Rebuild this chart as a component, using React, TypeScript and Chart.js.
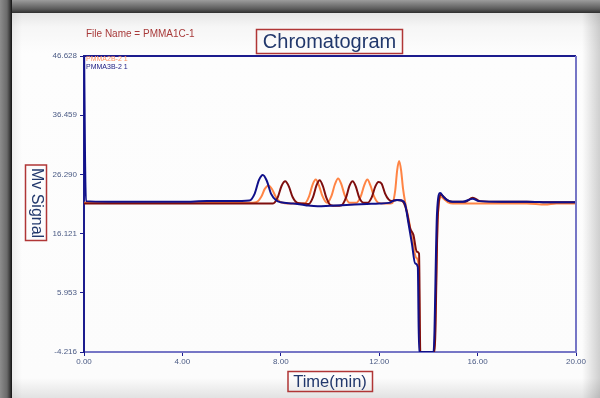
import React, { useEffect, useRef } from "react";
import { Chart, registerables } from "chart.js";

Chart.register(...registerables);

// ---- data ----
const xTickStep = 4;
const xMin = 0;
const xMax = 20;
const yTickValues = [-4.216, 5.953, 16.121, 26.29, 36.459, 46.628];

const fileName = "File Name = PMMA1C-1";
const titleText = "Chromatogram";
const xTitle = "Time(min)";
const yTitle = "Mv Signal";
const legendLabels = ["PMMA2B-2 1", "PMMA3B-2 1"];

// PMMA2B-2 1 (orange)
const orangeTimes = [
  0, 1, 2, 3, 4, 5, 6, 6.7,
  7.0, 7.2, 7.35, 7.5, 7.65, 7.8, 8.0,
  8.4, 8.97,
  9.15, 9.29, 9.42, 9.55, 9.69, 9.88,
  10.06, 10.2, 10.33, 10.46, 10.6, 10.8,
  11.07, 11.25, 11.39, 11.52, 11.65, 11.79, 11.97,
  12.2, 12.45, 12.54, 12.65, 12.73, 12.81, 12.89, 12.97, 13.06,
  13.2, 13.35, 13.5, 13.6, 13.66, 14.23, 14.38, 14.52, 14.65, 14.8, 15.0,
  16, 17, 18, 18.75, 19.2, 20,
];
const orangeValues = [
  21.4, 21.4, 21.4, 21.4, 21.4, 21.4, 21.4, 21.4,
  21.5, 22.4, 23.8, 24.4, 23.7, 22.4, 21.5,
  21.3, 21.3,
  22.5, 24.5, 25.4, 24.4, 22.6, 21.4,
  22.6, 24.6, 25.6, 24.6, 22.7, 21.4,
  21.4, 22.5, 24.4, 25.4, 24.3, 22.5, 21.4,
  21.3, 21.3, 21.4, 23.5, 27.0, 28.6, 27.0, 23.8, 21.4,
  18.5, 15.0, 12.0, 10.8, -4.216, -4.216, 19.0, 22.4, 22.0, 21.5, 21.3,
  21.3, 21.3, 21.3, 21.1, 21.3, 21.3,
];

// PMMA1C-1 (dark red)
const redTimes = [
  0, 1, 2, 3, 4, 5, 6, 7, 7.68,
  7.88, 8.03, 8.18, 8.33, 8.48, 8.68,
  8.9, 9.13,
  9.31, 9.45, 9.58, 9.71, 9.85, 10.03,
  10.25, 10.47,
  10.65, 10.79, 10.92, 11.05, 11.19, 11.37,
  11.52, 11.7, 11.84, 11.97, 12.1, 12.24, 12.38, 12.51,
  12.7, 12.9, 13.0, 13.12, 13.26, 13.39, 13.53, 13.62, 13.67,
  14.25, 14.38, 14.52, 14.65, 14.8, 15.0, 15.5, 15.8, 16.1,
  17, 18, 19, 20,
];
const redValues = [
  21.3, 21.3, 21.3, 21.3, 21.3, 21.3, 21.3, 21.3, 21.3,
  22.4, 24.3, 25.1, 24.2, 22.4, 21.4,
  21.3, 21.2,
  22.4, 24.4, 25.3, 24.3, 22.3, 21.0,
  20.9, 21.0,
  22.3, 24.3, 25.1, 24.2, 22.3, 21.4,
  21.4, 22.4, 24.2, 25.0, 24.7, 23.0, 22.0, 21.7,
  21.9, 21.8, 21.4, 19.9, 17.0, 15.9, 13.0, 12.7, -4.216,
  -4.216, 19.0, 22.8, 22.3, 21.8, 21.6, 21.6, 22.3, 21.7,
  21.6, 21.6, 21.5, 21.5,
];

// PMMA3B-2 1 (navy)
const blueTimes = [
  0, 0.04, 0.08, 1, 2, 3, 4, 5, 6, 6.72,
  6.94, 7.11, 7.27, 7.43, 7.6, 7.82,
  8.0, 8.5, 9.0, 9.5, 10.0, 10.5, 11.0, 11.5, 12.0, 12.4,
  12.6, 12.75, 12.92, 13.05, 13.19, 13.33, 13.46, 13.57, 13.62,
  14.21, 14.35, 14.48, 14.6, 14.75, 14.96, 15.4, 15.8, 16.05,
  17, 18, 19, 20,
];
const blueValues = [
  50, 30, 21.7, 21.6, 21.6, 21.6, 21.6, 21.7, 21.7, 21.8,
  23.0, 25.3, 26.2, 25.2, 23.0, 21.8,
  21.5, 21.3, 21.0, 20.8, 20.9, 21.0, 21.1, 21.2, 21.3, 21.4,
  21.8, 21.9, 21.8, 21.2, 17.9, 14.4, 11.0, 10.4, -4.216,
  -4.216, 19.6, 23.1, 22.5, 21.9, 21.6, 21.6, 22.1, 21.7,
  21.6, 21.6, 21.5, 21.5,
];

const toPoints = (ts: number[], vs: number[]) =>
  ts.map((t, i) => ({ x: t, y: vs[i] }));

const FONT = "'Liberation Sans', Arial, sans-serif";

const overlayPlugin = {
  id: "overlay",
  afterDraw(chart: any) {
    const ctx = chart.ctx;
    const a = chart.chartArea;
    ctx.save();
    // top and right frame
    ctx.lineWidth = 2;
    ctx.strokeStyle = "#1c1c8e";
    ctx.beginPath();
    ctx.moveTo(a.left - 1, a.top);
    ctx.lineTo(a.right, a.top);
    ctx.stroke();
    ctx.strokeStyle = "#7676c6";
    ctx.beginPath();
    ctx.moveTo(a.right, a.top);
    ctx.lineTo(a.right, a.bottom);
    ctx.stroke();

    // file name
    ctx.fillStyle = "#a83a3a";
    ctx.font = `10px ${FONT}`;
    ctx.textAlign = "left";
    ctx.textBaseline = "middle";
    ctx.fillText(fileName, 86, 34.5);

    // title box
    ctx.strokeStyle = "#b03636";
    ctx.lineWidth = 1.5;
    ctx.strokeRect(256.5, 29.5, 146, 24);
    ctx.fillStyle = "#22386c";
    ctx.font = `20px ${FONT}`;
    ctx.textAlign = "center";
    ctx.fillText(titleText, 329.5, 42);

    // x title
    ctx.strokeRect(288, 371.5, 84.5, 20);
    ctx.font = `16.5px ${FONT}`;
    ctx.fillText(xTitle, 330, 382);

    // y title
    ctx.strokeRect(25.5, 165, 21, 75.5);
    ctx.save();
    ctx.translate(36, 203);
    ctx.rotate(Math.PI / 2);
    ctx.font = `16px ${FONT}`;
    ctx.fillText(yTitle, 0, 0);
    ctx.restore();

    // legend
    ctx.font = `7px ${FONT}`;
    ctx.textAlign = "left";
    ctx.fillStyle = "#ff9060";
    ctx.fillText(legendLabels[0], 86, 59.5);
    ctx.fillStyle = "#1a1a80";
    ctx.fillText(legendLabels[1], 86, 67);
    ctx.restore();
  },
};

export default function App() {
  const ref = useRef<HTMLCanvasElement | null>(null);

  useEffect(() => {
    if (!ref.current) return;
    const chart = new Chart(ref.current, {
      type: "line",
      data: {
        datasets: [
          {
            label: legendLabels[1],
            data: toPoints(blueTimes, blueValues),
            borderColor: "#10108a",
            borderWidth: 2,
            pointRadius: 0,
            cubicInterpolationMode: "monotone",
            order: 1,
          },
          {
            label: "PMMA1C-1",
            data: toPoints(redTimes, redValues),
            borderColor: "#7e0e0e",
            borderWidth: 2,
            pointRadius: 0,
            cubicInterpolationMode: "monotone",
            order: 2,
          },
          {
            label: legendLabels[0],
            data: toPoints(orangeTimes, orangeValues),
            borderColor: "#ff8444",
            borderWidth: 2,
            pointRadius: 0,
            cubicInterpolationMode: "monotone",
            order: 3,
          },
        ],
      },
      options: {
        animation: false,
        responsive: true,
        maintainAspectRatio: false,
        parsing: true,
        layout: { padding: { top: 56, right: 24, left: 0, bottom: 0 } },
        plugins: {
          legend: { display: false },
          title: { display: false },
          tooltip: { enabled: false },
        },
        scales: {
          x: {
            type: "linear",
            min: xMin,
            max: xMax,
            afterFit: (s: any) => {
              s.height = 46;
            },
            ticks: {
              stepSize: xTickStep,
              color: "#4a5a84",
              font: { family: FONT, size: 8 },
              padding: 1,
              maxRotation: 0,
              callback: (v: any) => Number(v).toFixed(2),
            },
            grid: {
              drawOnChartArea: false,
              drawTicks: true,
              tickLength: 4,
              color: "#1c1c8e",
            },
            border: { color: "#7676c6", width: 2 },
          },
          y: {
            type: "linear",
            min: yTickValues[0],
            max: yTickValues[yTickValues.length - 1],
            afterFit: (s: any) => {
              s.width = 84;
            },
            afterBuildTicks: (s: any) => {
              s.ticks = yTickValues.map((v) => ({ value: v }));
            },
            ticks: {
              color: "#4a5a84",
              font: { family: FONT, size: 8 },
              padding: 3,
              callback: (v: any) => Number(v).toFixed(3),
            },
            grid: {
              drawOnChartArea: false,
              drawTicks: true,
              tickLength: 4,
              color: "#1c1c8e",
            },
            border: { color: "#1c1c8e", width: 2 },
          },
        },
      },
      plugins: [overlayPlugin],
    } as any);
    return () => chart.destroy();
  }, []);

  return (
    <div
      style={{
        position: "fixed",
        left: 0,
        top: 0,
        width: 600,
        height: 398,
        overflow: "hidden",
        background: "linear-gradient(to bottom, #9c9c9c 0px, #5a5a5a 9px, #2e2e2e 13px)",
      }}
    >
      <div
        style={{
          position: "absolute",
          left: 0,
          top: 0,
          width: 12,
          height: 398,
          background: "linear-gradient(to right, #8c8c8c 0px, #6a6a6a 7px, #3a3a3a 10px, #111 12px)",
        }}
      />
      <div
        style={{
          position: "absolute",
          left: 12,
          top: 13,
          width: 588,
          height: 385,
          backgroundImage:
            "linear-gradient(to right, rgba(0,0,0,0.06) 0px, rgba(0,0,0,0) 10px, rgba(0,0,0,0) 570px, rgba(0,0,0,0.18) 588px), linear-gradient(to bottom, #e6e6e6 0px, #f6f6f6 14px, #fdfdfd 40px, #fcfcfc 365px, #e2e2e2 385px)",
        }}
      />
      <div style={{ position: "absolute", left: 0, top: 0, width: 600, height: 398 }}>
        <canvas ref={ref} />
      </div>
    </div>
  );
}
